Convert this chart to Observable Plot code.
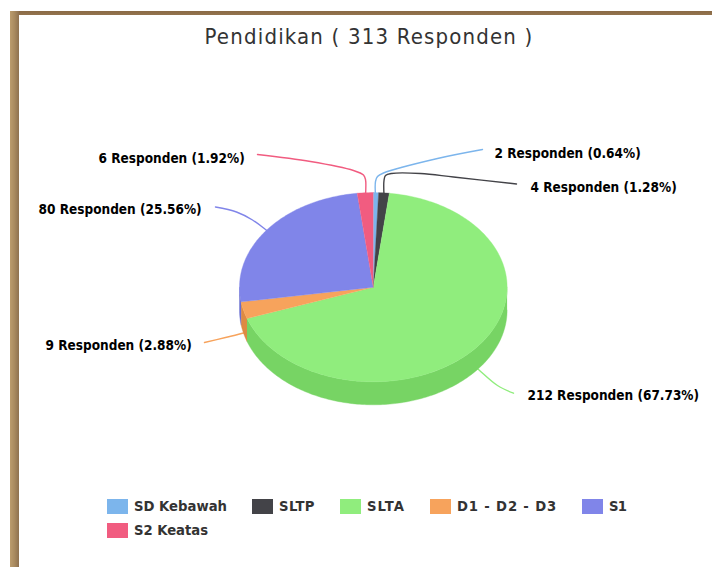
<!DOCTYPE html>
<html><head><meta charset="utf-8">
<script src="https://cdn.jsdelivr.net/npm/d3@7"></script>
<script src="https://cdn.jsdelivr.net/npm/@observablehq/plot@0.6"></script>
<style>
html,body{margin:0;padding:0;background:#fff;}
body{position:relative;width:712px;height:567px;overflow:hidden;font-family:"DejaVu Sans",sans-serif;}
#top{position:absolute;left:10px;top:11px;right:0;height:4px;background:linear-gradient(#8a6a45,#93744f);}
#left{position:absolute;left:10px;top:11px;bottom:0;width:8.5px;background:linear-gradient(90deg,#bb9c6e,#a98a5f 50%,#8e7150);}
#title{position:absolute;left:0;width:738px;top:23px;text-align:center;font-size:22px;font-stretch:condensed;letter-spacing:1.18px;color:#333;line-height:28px;}
#chart{position:absolute;left:0;top:60px;}
#chart svg{display:block;}
#chart text{font-stretch:condensed;}
#legend{position:absolute;left:107px;top:494px;width:540px;display:flex;flex-wrap:wrap;column-gap:25px;row-gap:0;font-size:14.7px;font-stretch:condensed;font-weight:bold;color:#333;line-height:24px;}
#legend .it{display:flex;align-items:center;height:24px;}
#legend .sw{width:21px;height:15px;margin-right:6px;display:inline-block;}
#legend .tx{white-space:pre;display:inline-block;}
</style></head>
<body>
<div id="top"></div><div id="left"></div>
<div id="title">Pendidikan ( 313 Responden )</div>
<div id="chart"></div>
<div id="legend"></div>
<script>
const categories = ["SD Kebawah","SLTP","SLTA","D1 - D2 - D3","S1","S2 Keatas"];
const respondents = [2,4,212,9,80,6];
const percents = ["0.64","1.28","67.73","2.88","25.56","1.92"];
const colors = ["#7cb5ec","#434348","#90ed7d","#f7a35c","#8085e9","#f15c80"];
const sideColors = ["#639cd3","#2a2a2f","#77d464","#de8a43","#676cd0","#d84367"];

// layout (pixels in the page)
const W = 712, H = 430, top0 = 60;
const cx = 372.8, cy = 286.7, rx = 133.8, ry = 94.6, depth = 23 / ry;
const ux = px => (px - cx) / rx, uy = py => (cy - py) / ry;
const labelAt = [[494,153],[530,187],[527,395],[45,345],[38,209],[98,158]];
const leaders = [
  [[375,195],[375,181],[377,176],[383,172.5],[437,158],[482,149]],
  [[383.5,195],[383.5,180],[385,175],[391,173],[420,173],[453,176.5],[516,183.5]],
  [[470,362],[478,369],[497,385],[513,392.7]],
  [[250,330],[243,332.5],[225,337],[204,342]],
  [[270,233],[265,229],[252,219.5],[236,211.5],[215,206.5]],
  [[365,195],[365,179],[363,174.5],[353,170],[310,161],[257,154]]
];
const legendTextWidths = [93,36,38,100,17,74];

const total = d3.sum(respondents);
const cum = d3.cumsum(respondents);
const startOf = i => (i ? cum[i-1] : 0) / total * 2 * Math.PI;
const endOf = i => cum[i] / total * 2 * Math.PI;
const angles = (a, b) => {
  const n = Math.max(2, Math.ceil((b - a) / (Math.PI / 180)));
  return d3.range(n + 1).map(k => a + (b - a) * k / n);
};
const tops = [], sides = [], lines = [], labels = [];
categories.forEach((cat, i) => {
  const a = startOf(i), b = endOf(i);
  tops.push({cat, i, x: 0, y: 0});
  for (const t of angles(a, b)) tops.push({cat, i, x: Math.sin(t), y: Math.cos(t)});
  // visible outer wall: only the front half of the rim
  const a2 = Math.max(a, Math.PI / 2), b2 = Math.min(b, 3 * Math.PI / 2);
  if (b2 > a2) {
    const arc = angles(a2, b2);
    for (const t of arc) sides.push({cat, i, x: Math.sin(t), y: Math.cos(t)});
    for (const t of arc.slice().reverse()) sides.push({cat, i, x: Math.sin(t), y: Math.cos(t) - depth});
  }
  for (const [px, py] of leaders[i]) lines.push({cat, i, x: ux(px), y: uy(py)});
  labels.push({x: ux(labelAt[i][0]), y: uy(labelAt[i][1]),
    text: `${respondents[i]} Responden (${percents[i]}%)`});
});

const chart = Plot.plot({
  width: W, height: H,
  marginTop: 0, marginRight: 0, marginBottom: 0, marginLeft: 0,
  x: {domain: [ux(0), ux(W)], axis: null},
  y: {domain: [uy(top0 + H), uy(top0)], axis: null},
  color: {domain: categories, range: colors},
  marks: [
    Plot.line(lines, {x: "x", y: "y", z: "cat", stroke: "cat", strokeWidth: 1.4, curve: "catmull-rom"}),
    Plot.line(sides, {x: "x", y: "y", z: "cat", fill: d => sideColors[d.i], stroke: d => sideColors[d.i], strokeWidth: .4}),
    Plot.line(tops, {x: "x", y: "y", z: "cat", fill: "cat", stroke: "cat", strokeWidth: .4}),
    Plot.text(labels, {x: "x", y: "y", text: "text", textAnchor: "start", fontSize: 13.5, fontWeight: "bold", fill: "#000", fontFamily: "DejaVu Sans"})
  ]
});
document.getElementById("chart").appendChild(chart);

const legend = document.getElementById("legend");
categories.forEach((cat, i) => {
  const it = document.createElement("div"); it.className = "it";
  const sw = document.createElement("span"); sw.className = "sw"; sw.style.background = colors[i];
  const tx = document.createElement("span"); tx.className = "tx"; tx.textContent = cat;
  it.appendChild(sw); it.appendChild(tx);
  legend.appendChild(it);
  const w = tx.getBoundingClientRect().width;
  tx.style.letterSpacing = ((legendTextWidths[i] - w) / cat.length) + "px";
});
</script>
</body></html>
